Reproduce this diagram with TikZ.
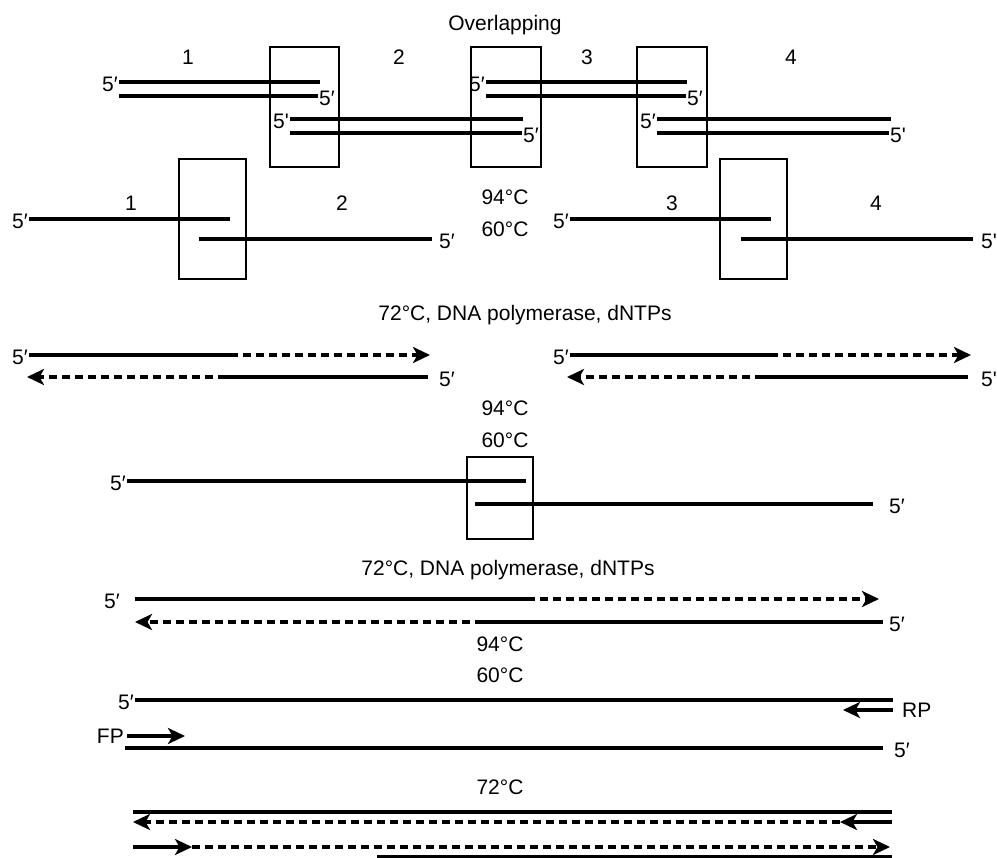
\documentclass[tikz,border=0pt]{standalone}
\usepackage{fontspec}
\setmainfont{Liberation Sans}
\usetikzlibrary{arrows.meta}
\newcommand{\fp}{5′}
\newcommand{\fs}{5\textquotesingle}
\begin{document}
\begin{tikzpicture}[x=1pt,y=-1pt,
  strand/.style={line width=4pt},
  dstrand/.style={line width=4pt,dash pattern=on 8pt off 5pt},
  tip/.style={-{Stealth[length=17pt,width=16pt,inset=4.5pt]}},
  frame/.style={draw,line width=1.8pt},
  lab/.style={font=\fontsize{21}{25}\selectfont,inner sep=1pt},
  lw/.style={lab,anchor=west},
  le/.style={lab,anchor=east}]
\useasboundingbox (0,0) rectangle (997,858);
% ---------- top: overlapping fragments ----------
\node[lab] (title) at (505,25) {Overlapping};
\node[lab] (n1) at (188,57) {1};
\node[lab] (n2) at (399,57) {2};
\node[lab] (n3) at (587,57) {3};
\node[lab] (n4) at (791,57) {4};
\draw[frame] (270,47) rectangle (339,167);
\draw[frame] (471,47) rectangle (541,167);
\draw[frame] (637,47) rectangle (707,167);
% pair 1
\draw[strand] (119,82) coordinate (p1a) -- (320,82) coordinate (p1b);
\draw[strand] (119,96) coordinate (p1c) -- (318,96) coordinate (p1d);
\node[le] at ([yshift=-2pt]p1a) {\fp};
\node[lw] at ([yshift=-2pt]p1d) {\fp};
% pair 2
\draw[strand] (290,119) coordinate (p2a) -- (523,119) coordinate (p2b);
\draw[strand] (290,133) coordinate (p2c) -- (522,133) coordinate (p2d);
\node[le] at ([yshift=-2pt]p2a) {\fs};
\node[lw] at ([yshift=-2pt]p2d) {\fp};
% pair 3
\draw[strand] (486,82) coordinate (p3a) -- (687,82) coordinate (p3b);
\draw[strand] (486,96) coordinate (p3c) -- (686,96) coordinate (p3d);
\node[le] at ([yshift=-2pt]p3a) {\fp};
\node[lw] at ([yshift=-2pt]p3d) {\fp};
% pair 4
\draw[strand] (657,119) coordinate (p4a) -- (891,119) coordinate (p4b);
\draw[strand] (657,133) coordinate (p4c) -- (889,133) coordinate (p4d);
\node[le] at ([yshift=-2pt]p4a) {\fp};
\node[lw] at ([yshift=-2pt]p4d) {\fs};
% ---------- row 2 ----------
\draw[frame] (179,159) rectangle (246,279);
\draw[frame] (720,159) rectangle (787,279);
\node[lab] (m1) at (131,203) {1};
\node[lab] (m2) at (342,203) {2};
\node[lab] (m3) at (672,203) {3};
\node[lab] (m4) at (876,203) {4};
\node[lab] (t94a) at (505,197) {94°C};
\node[lab] (t60a) at (505,229) {60°C};
\draw[strand] (29,219) coordinate (r2a) -- (230,219);
\draw[strand] (199,239) -- (432,239) coordinate (r2b);
\node[le] at ([yshift=-2pt]r2a) {\fp};
\node[lw] at ([xshift=6pt,yshift=-2pt]r2b) {\fp};
\draw[strand] (570,219) coordinate (r2c) -- (771,219);
\draw[strand] (741,239) -- (973,239) coordinate (r2d);
\node[le] at ([yshift=-2pt]r2c) {\fp};
\node[lw] at ([xshift=7pt,yshift=-2pt]r2d) {\fs};
\node[lab] (ext1) at (525,315) {72°C, DNA polymerase, dNTPs};
% ---------- row 3 ----------
\draw[strand] (29,355) coordinate (r3a) -- (230,355) coordinate (r3b);
\draw[dstrand,tip] (r3b) -- (430,355);
\draw[strand] (428,377) coordinate (r3c) -- (226,377) coordinate (r3d);
\draw[dstrand,tip] (r3d) -- (27,377);
\node[le] at ([yshift=-2pt]r3a) {\fp};
\node[lw] at ([xshift=10pt,yshift=-2pt]r3c) {\fp};
\draw[strand] (570,355) coordinate (r3e) -- (770,355) coordinate (r3f);
\draw[dstrand,tip] (r3f) -- (971,355);
\draw[strand] (968,377) coordinate (r3g) -- (763,377) coordinate (r3h);
\draw[dstrand,tip] (r3h) -- (567,377);
\node[le] at ([yshift=-2pt]r3e) {\fp};
\node[lw] at ([xshift=12pt,yshift=-2pt]r3g) {\fs};
\node[lab] (t94b) at (505,408) {94°C};
\node[lab] (t60b) at (505,440) {60°C};
% ---------- row 4 ----------
\draw[frame] (467,457) rectangle (533,539);
\draw[strand] (127,481) coordinate (r4a) -- (526,481);
\draw[strand] (475,504) -- (873,504) coordinate (r4b);
\node[le] at ([yshift=-2pt]r4a) {\fp};
\node[lw] at ([xshift=15pt,yshift=-2pt]r4b) {\fp};
\node[lab] (ext2) at (508,570) {72°C, DNA polymerase, dNTPs};
% ---------- row 5 ----------
\draw[strand] (135,599) coordinate (r5a) -- (527,599) coordinate (r5b);
\draw[dstrand,tip] (r5b) -- (879,599);
\draw[strand] (883,622) coordinate (r5c) -- (483,622) coordinate (r5d);
\draw[dstrand,tip] (r5d) -- (135,622);
\node[le] at ([xshift=-14pt,yshift=-2pt]r5a) {\fp};
\node[lw] at ([xshift=5pt,yshift=-2pt]r5c) {\fp};
\node[lab] (t94c) at (500,644) {94°C};
\node[lab] (t60c) at (500,675) {60°C};
% ---------- row 6 ----------
\draw[strand] (135,700) coordinate (r6a) -- (893,700) coordinate (r6b);
\node[le] at ([yshift=-2pt]r6a) {\fp};
\draw[strand,tip] (893,710) coordinate (rp) -- (843,710);
\node[lw] (RP) at ([xshift=8pt]rp) {RP};
\draw[strand,tip] (127,736) coordinate (fp) -- (185,736);
\node[le] (FP) at ([xshift=-2pt]fp) {FP};
\draw[strand] (125,748) -- (883,748) coordinate (r6c);
\node[lw] at ([xshift=10pt,yshift=-2pt]r6c) {\fp};
\node[lab] (t72) at (500,787) {72°C};
% ---------- row 7 ----------
\draw[strand] (133,812) -- (892,812);
\draw[strand,tip] (892,822) coordinate (b1) -- (840,822) coordinate (b2);
\draw[dstrand,tip] (b2) -- (133,822);
\draw[strand,tip] (133,847) -- (192,847) coordinate (b3);
\draw[dstrand,tip] (b3) -- (890,847);
\draw[strand] (377,857) -- (892,857);
\end{tikzpicture}
\end{document}
